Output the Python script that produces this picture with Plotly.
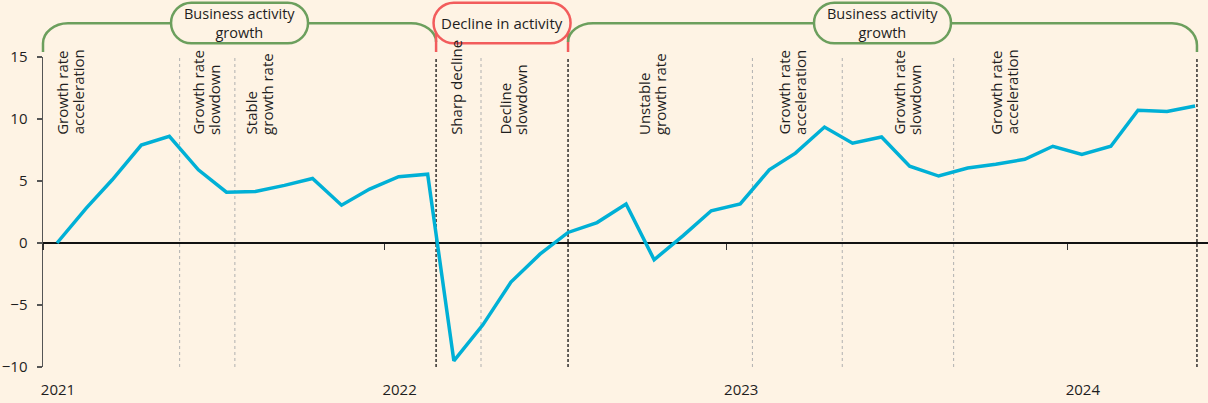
import math
from datetime import datetime
import pandas as pd
import plotly.graph_objects as go

# ---------------- data ----------------
months = pd.date_range("2021-01-01", "2024-05-01", freq="MS") + pd.Timedelta(days=15)
values = [0.0, 2.8, 5.1, 7.9, 8.6, 5.9, 4.1, 4.15, 4.65, 5.2,
          3.05, 4.35, 5.35, 5.55, -9.5, -6.6, -3.15, -0.9, 0.85, 1.65,
          3.15, -1.35, 0.6, 2.6, 3.15, 5.9, 7.25, 9.35, 8.05, 8.55,
          6.2, 5.4, 6.05, 6.35, 6.75, 7.8, 7.15, 7.8, 10.7, 10.6, 11.05]

year_ticks = ["2021-01-01", "2022-01-01", "2023-01-01", "2024-01-01"]
year_labels = ["2021", "2022", "2023", "2024"]
y_ticks = [-10, -5, 0, 5, 10, 15]

minor_breaks = ["2021-05-27", "2021-07-25", "2022-04-14",
                "2023-01-29", "2023-05-05", "2023-09-01"]
major_breaks = ["2022-02-25", "2022-07-16", "2024-05-18"]

stage_dates = ["2021-01-30", "2021-06-24", "2021-08-20", "2022-03-19", "2022-05-18",
               "2022-10-13", "2023-03-12", "2023-07-13", "2023-10-25"]
stage_texts = [["Growth rate", "acceleration"], ["Growth rate", "slowdown"],
               ["Stable", "growth rate"], ["Sharp decline"], ["Decline", "slowdown"],
               ["Unstable", "growth rate"], ["Growth rate", "acceleration"],
               ["Growth rate", "slowdown"], ["Growth rate", "acceleration"]]

phase_starts = ["2021-01-01", "2022-02-25", "2022-07-16"]
phase_ends = ["2022-02-25", "2022-07-16", "2024-05-18"]
phase_kinds = ["growth", "decline", "growth"]
phase_titles = [["Business activity", "growth"], ["Decline in activity"],
                ["Business activity", "growth"]]

# ---------------- style ----------------
BG = "#FEF3E4"
LINE_C = "#00B0D6"
GREEN = "#6C9F5D"
RED = "#F25C5C"
TXT = "#1E1E1E"
FONT = "Open Sans"

W, H = 1208, 403
L, R, T, B = 43, 0, 57, 36
PW, PH = W - L - R, H - T - B
X0 = datetime(2021, 1, 1)
X1 = datetime(2024, 5, 29, 19)


def xpx(d):
    d = pd.Timestamp(d).to_pydatetime()
    return L + (d - X0).total_seconds() / (X1 - X0).total_seconds() * PW


def P(px, py):
    return f"{(px - L) / PW:.5f},{(H - B - py) / PH:.5f}"


fig = go.Figure()
fig.add_trace(go.Scatter(x=months, y=values, mode="lines",
                         line=dict(color=LINE_C, width=3.5),
                         hoverinfo="skip", showlegend=False))
# helper (invisible) trace so that the zero-level tick axis is drawn
fig.add_trace(go.Scatter(x=year_ticks, y=[0] * len(year_ticks), xaxis="x2",
                         mode="lines", line=dict(width=0), opacity=0,
                         hoverinfo="skip", showlegend=False))

shapes = []
for d in minor_breaks:
    shapes.append(dict(type="line", xref="x", yref="paper", x0=d, x1=d, y0=0, y1=1,
                       line=dict(color="#B0B0B0", width=1, dash="3px,3px"), layer="between"))
for d in major_breaks:
    shapes.append(dict(type="line", xref="x", yref="paper", x0=d, x1=d, y0=0, y1=1,
                       line=dict(color="#111111", width=1.3, dash="3px,2px"), layer="between"))

annotations = []

# stage labels (rotated)
Y_START = 136.7
LSP = 16
for d, lines in zip(stage_dates, stage_texts):
    n = len(lines)
    for j, t in enumerate(lines):
        annotations.append(dict(
            x=d, xref="x", y=(H - B - Y_START) / PH, yref="paper",
            text=t, textangle=-90, showarrow=False,
            xanchor="center", yanchor="bottom",
            xshift=(j - (n - 1) / 2) * LSP,
            font=dict(family=FONT, size=15, color=TXT)))

# phase brackets
Y_BAR = 23.3
PILL_T, PILL_B = 2.7, 43.3
PILL_W = 137
RAD = (PILL_B - PILL_T) / 2
K = 0.5523


def pill(cx):
    xl, xr = cx - PILL_W / 2, cx + PILL_W / 2
    yc = (PILL_T + PILL_B) / 2
    r, k = RAD, RAD * K
    return ("M" + P(xl + r, PILL_T) + " L" + P(xr - r, PILL_T) +
            " C" + P(xr - r + k, PILL_T) + " " + P(xr, yc - k) + " " + P(xr, yc) +
            " C" + P(xr, yc + k) + " " + P(xr - r + k, PILL_B) + " " + P(xr - r, PILL_B) +
            " L" + P(xl + r, PILL_B) +
            " C" + P(xl + r - k, PILL_B) + " " + P(xl, yc + k) + " " + P(xl, yc) +
            " C" + P(xl, yc - k) + " " + P(xl + r - k, PILL_T) + " " + P(xl + r, PILL_T) + " Z")


n_ph = len(phase_starts)
for i, (s, e, kind, title) in enumerate(zip(phase_starts, phase_ends, phase_kinds, phase_titles)):
    xl, xr = xpx(s), xpx(e)
    cx = (xl + xr) / 2
    color = GREEN if kind == "growth" else RED
    if kind == "growth":
        rx = 25
        left_end = 52 if i == 0 else 42
        ry_l = 20 if i == 0 else left_end - Y_BAR
        p = "M" + P(xl, left_end)
        if i == 0:
            p += " L" + P(xl, Y_BAR + ry_l)
        p += (" C" + P(xl, Y_BAR + ry_l - ry_l * K) + " " + P(xl + rx - rx * K, Y_BAR) +
              " " + P(xl + rx, Y_BAR) + " L" + P(cx - PILL_W / 2, Y_BAR))
        right_end = 52 if i == n_ph - 1 else 42
        ry_r = 22 if i == n_ph - 1 else right_end - Y_BAR
        p += (" M" + P(cx + PILL_W / 2, Y_BAR) + " L" + P(xr - rx, Y_BAR) +
              " C" + P(xr - rx + rx * K, Y_BAR) + " " + P(xr, Y_BAR + ry_r - ry_r * K) +
              " " + P(xr, Y_BAR + ry_r))
        if i == n_ph - 1:
            p += " L" + P(xr, right_end)
        shapes.append(dict(type="path", xref="paper", yref="paper", path=p,
                           line=dict(color=color, width=2.5), layer="above"))
    else:
        yc = (PILL_T + PILL_B) / 2
        for xe, sign in ((xl, 1), (xr, -1)):
            arc_cx = cx - sign * (PILL_W / 2 - RAD)
            dx = xe - arc_cx
            ytop = yc + math.sqrt(max(RAD ** 2 - dx ** 2, 0)) - 1
            shapes.append(dict(type="path", xref="paper", yref="paper",
                               path="M" + P(xe, ytop) + " L" + P(xe, 52),
                               line=dict(color=color, width=2.5), layer="above"))
    shapes.append(dict(type="path", xref="paper", yref="paper", path=pill(cx),
                       fillcolor=BG, line=dict(color=color, width=2.5), layer="above"))
    annotations.append(dict(
        x=(cx - L) / PW, xref="paper", y=(H - B - 23.5) / PH, yref="paper",
        text="<br>".join(title), showarrow=False, xanchor="center", yanchor="middle",
        align="center", font=dict(family=FONT, size=15 if len(title) == 1 else 14.5, color=TXT)))

fig.update_layout(
    width=W, height=H,
    margin=dict(l=L, r=R, t=T, b=B, pad=0),
    paper_bgcolor=BG, plot_bgcolor=BG,
    font=dict(family=FONT, size=15, color=TXT),
    showlegend=False,
    xaxis=dict(type="date", range=[X0, X1], tickvals=year_ticks, ticktext=year_labels,
               ticks="", showline=False, showgrid=False, zeroline=False,
               tickfont=dict(family=FONT, size=15, color=TXT),
               ticklabelshift=15, ticklabelstandoff=12, automargin=False, fixedrange=True),
    xaxis2=dict(type="date", range=[X0, X1], overlaying="x", anchor="free", position=0.4,
                tickvals=year_ticks, ticks="outside", ticklen=6, tickwidth=1.3,
                tickcolor="#333333", showticklabels=False, showline=False,
                showgrid=False, zeroline=False, automargin=False, fixedrange=True),
    yaxis=dict(range=[-10, 15], tickvals=y_ticks, ticks="outside", ticklen=5,
               tickwidth=1.3, tickcolor="#555555", showline=True, linecolor="#555555",
               linewidth=1.5, showgrid=False, zeroline=True, zerolinecolor="#111111",
               zerolinewidth=1.5, tickfont=dict(family=FONT, size=15, color=TXT),
               ticklabelstandoff=6, automargin=False, fixedrange=True),
    shapes=shapes,
    annotations=annotations,
)

fig.write_html(
    "out.html",
    config={"displayModeBar": False, "staticPlot": True},
    post_script="document.body.style.margin='0';document.body.style.background='" + BG + "';",
)
